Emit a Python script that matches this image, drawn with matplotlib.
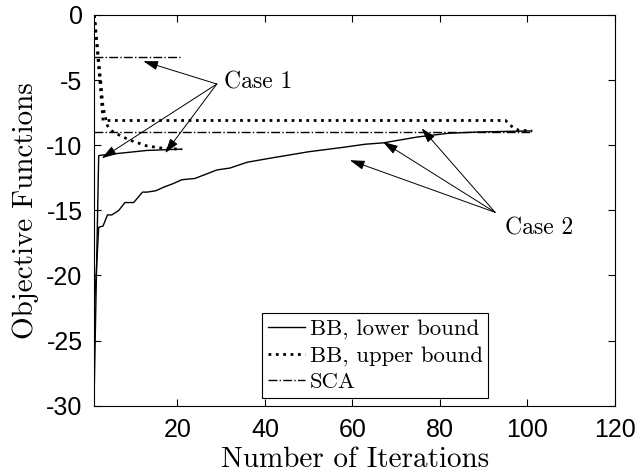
import numpy as np
import matplotlib
matplotlib.use("Agg")
import matplotlib.pyplot as plt

# data (iteration, objective value)
lb1_x = [1, 2, 3, 13, 21]
lb1_y = [-28.5, -10.8, -10.75, -10.4, -10.3]

ub1_x = [1, 2, 2.5, 3, 4, 5, 6, 9, 13, 17, 21]
ub1_y = [0.0, -3.5, -5.2, -7.1, -8.5, -8.9, -9.1, -9.6, -10.05, -10.25, -10.3]

sca1_x = [1, 21]
sca1_y = [-3.2, -3.2]

lb2_x = [1, 2, 3, 4, 5, 6.6, 8, 10, 12, 13, 15, 17, 19, 21, 24, 29, 32, 36, 42,
         50, 57, 63, 67, 75, 82, 89, 101]
lb2_y = [-22.6, -16.3, -16.2, -15.35, -15.35, -15.0, -14.4, -14.4, -13.6, -13.6,
         -13.5, -13.2, -12.95, -12.65, -12.55, -11.9, -11.75, -11.3, -10.95,
         -10.5, -10.2, -9.92, -9.82, -9.36, -9.08, -8.98, -8.9]

ub2_x = [1, 2, 3, 95, 96, 97, 98, 101]
ub2_y = [0.0, -4.0, -8.1, -8.1, -8.45, -8.7, -8.85, -8.9]

sca2_x = [1, 101]
sca2_y = [-9.0, -9.0]

xticks = [20, 40, 60, 80, 100, 120]
yticks = [0, -5, -10, -15, -20, -25, -30]

# arrow annotations: (text, text pos, arrow start, arrow tips)
case1_txt = (30.6, -5.2)
case1_src = (29.0, -5.3)
case1_tips = [(12.2, -3.55), (2.7, -11.0), (17.2, -10.6)]
case2_txt = (94.9, -16.4)
case2_src = (92.6, -15.15)
case2_tips = [(59.4, -11.15), (67.0, -9.75), (75.8, -8.7)]

plt.rcParams['axes.unicode_minus'] = False
serif = 'cmr10'
tickfont = 'Liberation Sans'

fig = plt.figure(figsize=(6.39, 4.74), dpi=100)
ax = fig.add_axes([0.1476, 0.144, 0.8148, 0.8244])

ax.plot(lb1_x, lb1_y, color='black', lw=1.0, ls='-', label='BB, lower bound')
ax.plot(ub1_x, ub1_y, color='black', lw=2.0, ls=':', label='BB, upper bound')
ax.plot(sca1_x, sca1_y, color='black', lw=1.0, ls='-.', label='SCA')
ax.plot(lb2_x, lb2_y, color='black', lw=1.0, ls='-')
ax.plot(ub2_x, ub2_y, color='black', lw=2.0, ls=':')
ax.plot(sca2_x, sca2_y, color='black', lw=1.0, ls='-.')

ax.set_xlim(1, 120)
ax.set_ylim(-30, 0)
ax.set_xticks(xticks)
ax.set_yticks(yticks)
ax.set_xticklabels([str(v) for v in xticks], fontfamily=tickfont, fontsize=18)
ax.set_yticklabels([str(v) for v in yticks], fontfamily=tickfont, fontsize=18)
ax.tick_params(direction='in', length=5, width=0.8, top=True, right=True)
ax.tick_params(axis='x', pad=9)
ax.tick_params(axis='y', pad=8.5)
for s in ax.spines.values():
    s.set_linewidth(0.8)

ax.set_xlabel('Number of Iterations', fontfamily=serif, fontsize=21, labelpad=3)
ax.set_ylabel('Objective Functions', fontfamily=serif, fontsize=21, labelpad=5)

arrow = dict(arrowstyle='-|>,head_length=0.9,head_width=0.28', color='black',
             lw=0.7, shrinkA=0, shrinkB=0)
ax.text(case1_txt[0], case1_txt[1], 'Case 1', fontfamily=serif, fontsize=17,
        va='center', ha='left')
for tip in case1_tips:
    ax.annotate('', xy=tip, xytext=case1_src, arrowprops=arrow)
ax.text(case2_txt[0], case2_txt[1], 'Case 2', fontfamily=serif, fontsize=17,
        va='center', ha='left')
for tip in case2_tips:
    ax.annotate('', xy=tip, xytext=case2_src, arrowprops=arrow)

leg = ax.legend(loc='lower left', bbox_to_anchor=(0.322, 0.02), borderaxespad=0,
                prop={'family': serif, 'size': 16.4}, handlelength=1.65,
                handletextpad=0.2, labelspacing=0.28, borderpad=0.25,
                fancybox=False, framealpha=1, edgecolor='black')
leg.get_frame().set_linewidth(0.8)

fig.savefig('out.png', dpi=100)
